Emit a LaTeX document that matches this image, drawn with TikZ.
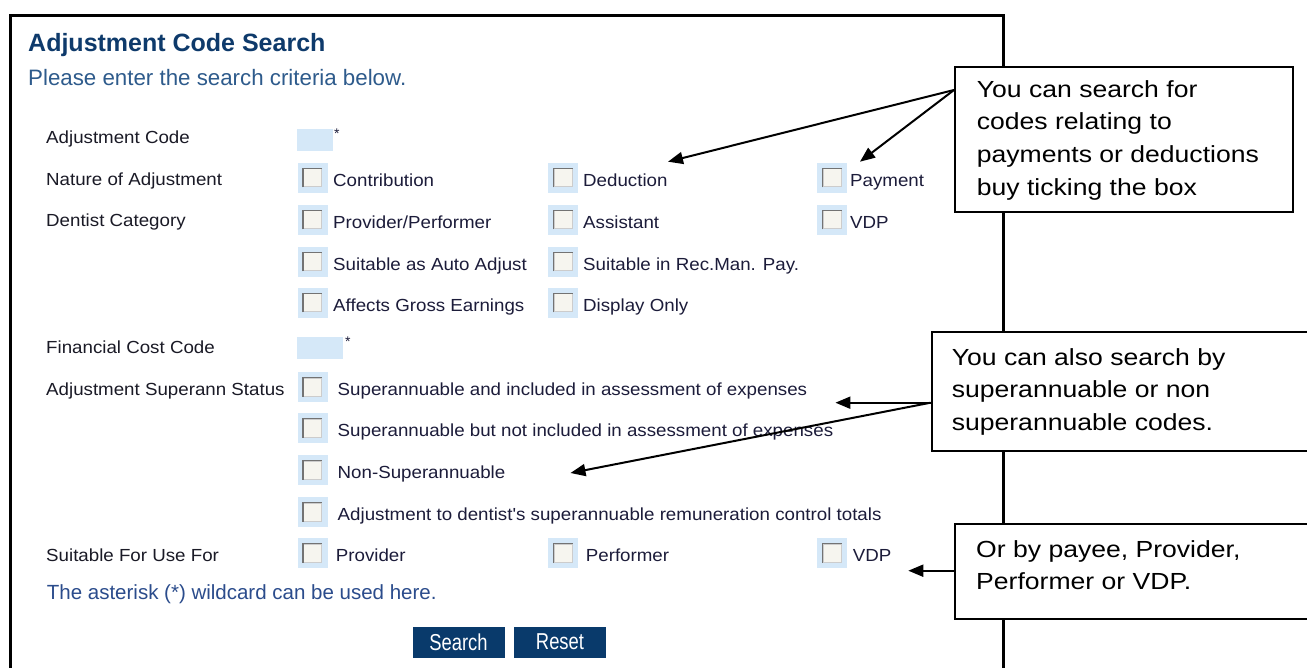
\documentclass[tikz,border=0pt]{standalone}
\usepackage{fontspec}
\setmainfont{Liberation Sans}
\newfontfamily\formfont[FakeStretch=1.07]{Liberation Sans}
\newfontfamily\callfont[FakeStretch=1.14]{Liberation Sans}
\newfontfamily\btnfont[FakeStretch=0.8]{Liberation Sans}
\usetikzlibrary{arrows.meta}
\definecolor{titleblue}{HTML}{0E3A6B}
\definecolor{subblue}{HTML}{2E5B8C}
\definecolor{noteblue}{HTML}{2B4C8C}
\definecolor{labelc}{HTML}{1A1A26}
\definecolor{optc}{HTML}{1C1C3A}
\definecolor{cbbgc}{HTML}{D5E8F8}
\definecolor{btnc}{HTML}{093A6B}
\definecolor{cbfill}{HTML}{F6F5EF}
\tikzset{
  lab/.style={anchor=base west, inner sep=0pt, text=labelc, font=\formfont\fontsize{17.5pt}{20pt}\selectfont},
  opt/.style={anchor=base west, inner sep=0pt, text=optc, font=\formfont\fontsize{17.5pt}{20pt}\selectfont},
  cbbg/.style={fill=cbbgc, minimum size=30pt, inner sep=0pt, draw=none},
  cbin/.style={fill=cbfill, draw=black!20, line width=1pt, minimum size=18pt, inner sep=0pt},
  cbedge/.style={draw=black!55, line width=1.6pt},
  field/.style={fill=cbbgc, inner sep=0pt, draw=none},
  star/.style={anchor=north west, inner sep=0pt, text=optc, font=\fontsize{14pt}{14pt}\selectfont},
  btn/.style={fill=btnc, text=white, minimum width=92pt, minimum height=31pt, inner sep=0pt, font=\btnfont\fontsize{23pt}{23pt}\selectfont},
  frame/.style={line width=3pt, draw=black},
  callout/.style={draw=black, fill=white, line width=2pt, inner sep=0pt, anchor=north west},
  ctext/.style={anchor=north west, inner sep=0pt, align=left, font=\callfont\fontsize{23.3pt}{32.7pt}\selectfont},
  pointer/.style={line width=2pt, draw=black, -{Triangle[length=15pt,width=12pt]}},
}
\newcommand{\cbx}[3]{%
  \node[cbbg] (#1) at (#2,#3) {};
  \node[cbin] (#1i) at (#2,#3) {};
  \draw[cbedge] (#1i.south west) -- (#1i.north west) -- (#1i.north east);
}
\begin{document}
\begin{tikzpicture}[x=1pt,y=-1pt]
\useasboundingbox (0,0) rectangle (1307,668);
\clip (0,0) rectangle (1307,668);
\fill[white] (0,0) rectangle (1307,668);

% main frame
\draw[frame] (10,700) -- (10,16) -- (1003.5,16) -- (1003.5,700);

% heading
\node[anchor=base west, inner sep=0pt, text=titleblue, font=\bfseries\fontsize{25pt}{28pt}\selectfont] (title) at (28,52) {Adjustment Code Search};
\node[anchor=base west, inner sep=0pt, text=subblue, font=\fontsize{22.3pt}{26pt}\selectfont] (sub) at (28,86) {Please enter the search criteria below.};

% labels
\node[lab] (l1) at (46,144) {Adjustment Code};
\node[lab] (l2) at (46,186) {Nature of Adjustment};
\node[lab] (l3) at (46,227) {Dentist Category};
\node[lab] (l6) at (46,353) {Financial Cost Code};
\node[lab] (l7) at (46,395.5) {Adjustment Superann Status};
\node[lab] (l11) at (46,561.5) {Suitable For Use For};

% text fields
\node[field, minimum width=36pt, minimum height=22pt] (f1) at (315,140) {};
\node[star] (s1) at (334,129) {*};
\node[field, minimum width=46pt, minimum height=22pt] (f2) at (320,348.5) {};
\node[star] (s2) at (345,337) {*};

% row 2
\cbx{b21}{312.5}{178} \cbx{b22}{563}{178} \cbx{b23}{832}{178}
\node[opt] (t21) at (333,186.5) {Contribution};
\node[opt] (t22) at (583,186.5) {Deduction};
\node[opt] (t23) at (850,186.5) {Payment};
% row 3
\cbx{b31}{312.5}{220} \cbx{b32}{563}{220} \cbx{b33}{832}{220}
\node[opt] (t31) at (333,228.5) {Provider/Performer};
\node[opt] (t32) at (583,228.5) {Assistant};
\node[opt] (t33) at (850,228.5) {VDP};
% row 4
\cbx{b41}{312.5}{262} \cbx{b42}{563}{262}
\node[opt] (t41) at (333,270.5) {Suitable as Auto Adjust};
\node[opt] (t42) at (583,270.5) {Suitable in Rec.Man. Pay.};
% row 5
\cbx{b51}{312.5}{303} \cbx{b52}{563}{303}
\node[opt] (t51) at (333,311.5) {Affects Gross Earnings};
\node[opt] (t52) at (583,311.5) {Display Only};

% superann rows
\cbx{b7}{312.7}{387}
\node[opt] (t7) at (337.5,395.5) {Superannuable and included in assessment of expenses};
\cbx{b8}{312.7}{428}
\node[opt] (t8) at (337.5,436.5) {Superannuable but not included in assessment of expenses};
\cbx{b9}{312.7}{470}
\node[opt] (t9) at (337.5,478.5) {Non-Superannuable};
\cbx{b10}{312.7}{512}
\node[opt] (t10) at (337.5,520.5) {Adjustment to dentist's superannuable remuneration control totals};

% suitable for use for
\cbx{b111}{312.7}{553} \cbx{b112}{563}{553} \cbx{b113}{832}{553}
\node[opt] (t111) at (335.7,561.5) {Provider};
\node[opt] (t112) at (585.7,561.5) {Performer};
\node[opt] (t113) at (852.7,561.5) {VDP};

% note
\node[anchor=base west, inner sep=0pt, text=noteblue, font=\fontsize{20.5pt}{24pt}\selectfont] (note) at (46.7,599) {The asterisk (*) wildcard can be used here.};

% buttons
\node[btn] (search) at (458.5,642) {Search};
\node[btn] (reset) at (560,642) {Reset};

% callouts
\node[callout, minimum width=338pt, minimum height=145pt] (c1) at (954,66) {};
\node[ctext] (c1t) at (976.7,80) {You can search for\\codes relating to\\payments or deductions\\buy ticking the box};
\node[callout, minimum width=400pt, minimum height=119.3pt] (c2) at (930.6,330.7) {};
\node[ctext] (c2t) at (951.6,348) {You can also search by\\superannuable or non\\superannuable codes.};
\node[callout, minimum width=380pt, minimum height=95.3pt] (c3) at (954.3,523) {};
\node[ctext] (c3t) at (976,540) {Or by payee, Provider,\\Performer or VDP.};

% connectors
\coordinate (c1p) at ([yshift=-24pt]c1.north west);
\coordinate (tipA) at (668,161.7);
\coordinate (tipB) at (860,161.7);
\draw[pointer] (c1p) -- (tipA);
\draw[pointer] (c1p) -- (tipB);
\coordinate (c2p) at ([yshift=-72pt]c2.north west);
\coordinate (tipC) at (835.4,402.7);
\coordinate (tipD) at (570.5,473);
\draw[pointer] (c2p) -- (tipC);
\draw[pointer] (c2p) -- (tipD);
\coordinate (c3p) at ([yshift=-47.7pt]c3.north west);
\coordinate (tipE) at (908.3,570.7);
\draw[pointer] (c3p) -- (tipE);
\end{tikzpicture}
\end{document}
